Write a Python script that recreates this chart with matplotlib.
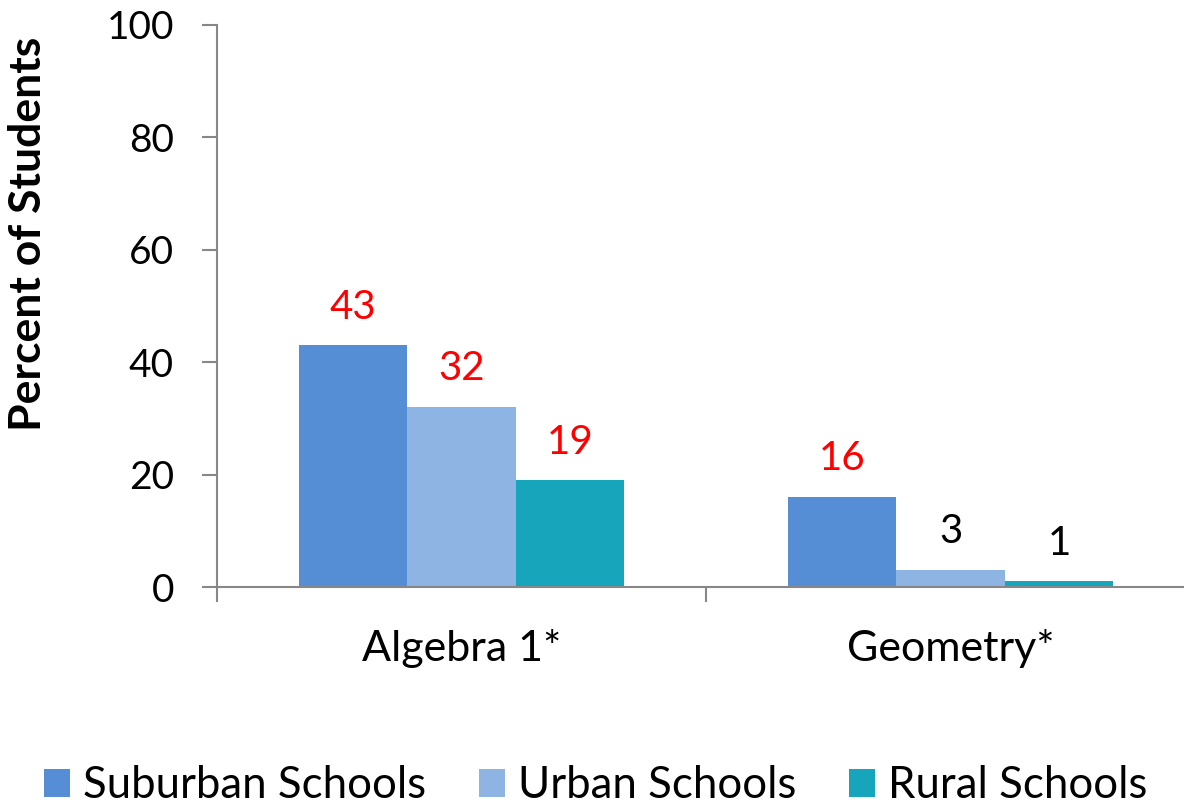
import matplotlib
matplotlib.use("Agg")
import matplotlib.pyplot as plt
import numpy as np

categories = ["Algebra 1*", "Geometry*"]
series = ["Suburban Schools", "Urban Schools", "Rural Schools"]
suburban = [43, 16]
urban = [32, 3]
rural = [19, 1]
label_colors = [["red", "red"], ["red", "black"], ["red", "black"]]

colors = ["#558ED5", "#8EB4E3", "#17A5BB"]
plt.rcParams["font.family"] = ["Lato", "DejaVu Sans"]

fig = plt.figure(figsize=(11.84, 8.06), dpi=100)
ax = fig.add_axes([217 / 1184, 219 / 806, 978 / 1184, 562 / 806])

x = np.arange(len(categories))
width = 0.222
values = [suburban, urban, rural]
for i, (name, vals) in enumerate(zip(series, values)):
    pos = x + (i - 1) * width
    ax.bar(pos, vals, width, color=colors[i], label=name, zorder=2)
    for p, v, c in zip(pos, vals, label_colors[i]):
        ax.text(p, v + 3.5, str(v), ha="center", va="bottom", fontsize=29, color=c)

ax.set_xlim(-0.5, 1.5)
ax.set_ylim(0, 100)
ax.set_yticks(np.arange(0, 101, 20))
ax.tick_params(axis="y", labelsize=28, length=11, width=1.5, color="#878787", pad=20)
ax.set_xticks([-0.5, 0.5, 1.5])
ax.set_xticklabels([])
ax.set_xticks(x, minor=True)
ax.set_xticklabels(categories, minor=True)
ax.tick_params(axis="x", which="major", length=11, width=1.5, color="#878787")
ax.tick_params(axis="x", which="minor", length=0, labelsize=31, pad=30)

for s in ["top", "right"]:
    ax.spines[s].set_visible(False)
for s in ["left", "bottom"]:
    ax.spines[s].set_color("#878787")
    ax.spines[s].set_linewidth(1.5)

ax.set_ylabel("Percent of Students", fontsize=32, fontweight="bold")
ax.yaxis.set_label_coords(-0.173, 0.628)

fig.legend(loc="center", bbox_to_anchor=(0.503, 0.025), ncol=3, frameon=False,
           fontsize=31.5, handlelength=0.6, handleheight=0.6, handletextpad=0.3,
           columnspacing=1.2, borderaxespad=0)

fig.savefig("out.png", dpi=100)
